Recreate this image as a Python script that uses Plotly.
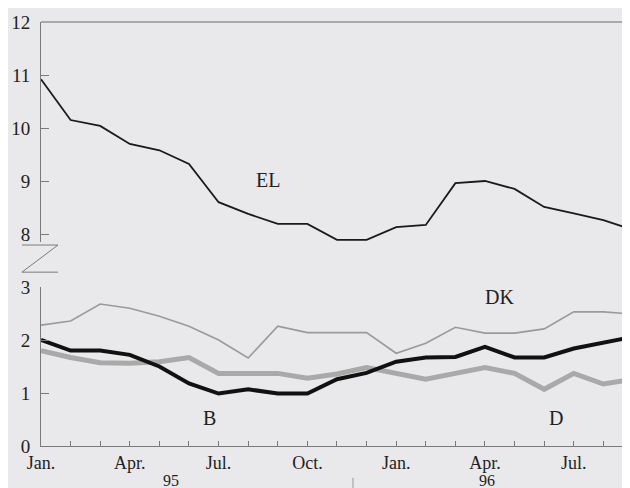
import plotly.graph_objects as go

months = ["Jan.", "Feb.", "Mar.", "Apr.", "May", "Jun.", "Jul.", "Aug.", "Sep.", "Oct.", "Nov.", "Dec.",
          "Jan.", "Feb.", "Mar.", "Apr.", "May", "Jun.", "Jul.", "Aug.", "Sep."]
x = list(range(len(months)))
tick_text = [m if m in ("Jan.", "Apr.", "Jul.", "Oct.") else "" for m in months]

EL = [10.92, 10.15, 10.04, 9.70, 9.58, 9.32, 8.60, 8.38, 8.19, 8.19, 7.89, 7.89,
      8.13, 8.17, 8.96, 9.00, 8.85, 8.51, 8.39, 8.26, 8.08]
DK = [2.28, 2.36, 2.68, 2.60, 2.45, 2.26, 2.00, 1.66, 2.26, 2.14, 2.14, 2.14,
      1.75, 1.94, 2.24, 2.13, 2.13, 2.21, 2.53, 2.53, 2.49]
B = [2.00, 1.80, 1.80, 1.72, 1.50, 1.18, 0.99, 1.07, 0.99, 0.99, 1.26, 1.38,
     1.59, 1.67, 1.68, 1.87, 1.67, 1.67, 1.84, 1.95, 2.06]
D = [1.80, 1.67, 1.57, 1.56, 1.59, 1.67, 1.37, 1.37, 1.37, 1.28, 1.36, 1.48,
     1.38, 1.26, 1.37, 1.48, 1.37, 1.07, 1.37, 1.17, 1.26]

font = "Liberation Serif, Times New Roman, serif"
fig = go.Figure()
fig.add_trace(go.Scatter(x=x, y=DK, mode="lines", line=dict(color="#9a9a9a", width=1.6), yaxis="y"))
fig.add_trace(go.Scatter(x=x, y=D, mode="lines", line=dict(color="#a9a9a9", width=5), yaxis="y"))
fig.add_trace(go.Scatter(x=x, y=B, mode="lines", line=dict(color="#111111", width=4), yaxis="y"))
fig.add_trace(go.Scatter(x=x, y=EL, mode="lines", line=dict(color="#1a1a1a", width=1.8), yaxis="y2"))

axis_common = dict(showgrid=False, zeroline=False, showline=True, linecolor="#7a7a7a", linewidth=1,
                   ticks="inside", ticklen=8, tickcolor="#7a7a7a", ticklabelstandoff=6,
                   tickfont=dict(family=font, size=19, color="#222"))
bg = "#e9e9eb"
fig.update_layout(
    width=630, height=488,
    margin=dict(l=33, r=0, t=14, b=50),
    paper_bgcolor=bg, plot_bgcolor=bg,
    showlegend=False,
    xaxis=dict(range=[0, 20.17], tickvals=x, ticktext=tick_text, showgrid=False, zeroline=False,
               showline=True, linecolor="#7a7a7a", ticks="inside", ticklen=5, tickcolor="#7a7a7a",
               ticklabelstandoff=0,
               tickfont=dict(family=font, size=18, color="#222"), anchor="y"),
    yaxis=dict(domain=[0, 0.375], range=[0, 3], tickvals=[0, 1, 2, 3], anchor="x", **axis_common),
    yaxis2=dict(domain=[0.48125, 1], range=[7.85, 12], tickvals=[8, 9, 10, 11, 12], anchor="x", **axis_common),
)

# top frame line and axis-break symbol
fig.add_shape(type="line", xref="paper", yref="paper", x0=0, x1=1, y0=1, y1=1,
              line=dict(color="#6a6a6a", width=1))
fig.add_shape(type="path", xref="paper", yref="paper",
              path="M -0.032 0.474 L 0.0285 0.474 L -0.032 0.410 L 0.0285 0.410",
              line=dict(color="#7a7a7a", width=1))
fig.add_shape(type="line", xref="paper", yref="paper", x0=0.5226, x1=0.5226, y0=-0.075, y1=-0.1,
              line=dict(color="#999", width=1))

labels = [("EL", 7.67, 9.02, "y2"), ("DK", 15.5, 2.81, "y"), ("B", 5.7, 0.53, "y"), ("D", 17.4, 0.53, "y")]
for t, lx, ly, yr in labels:
    fig.add_annotation(x=lx, y=ly, xref="x", yref=yr, text=t, showarrow=False,
                       font=dict(family=font, size=20, color="#222"))
for t, lx in [("95", 4.4), ("96", 15.07)]:
    fig.add_annotation(x=lx, y=-0.058, xref="x", yref="paper", text=t, showarrow=False, yanchor="top",
                       borderpad=0, font=dict(family=font, size=16, color="#222"))

fig.write_html("out.html")
